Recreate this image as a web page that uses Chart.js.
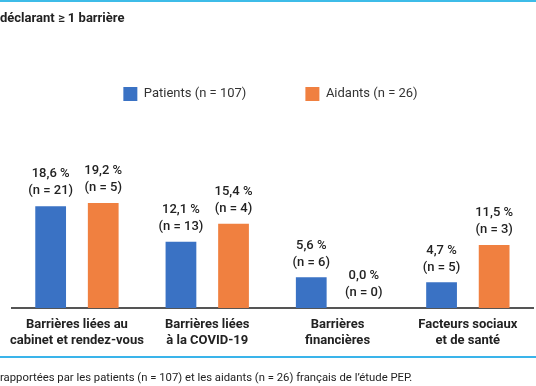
<!DOCTYPE html>
<html>
<head>
<meta charset="utf-8">
<script src="https://cdn.jsdelivr.net/npm/chart.js@4"></script>
<style>
  html, body { margin: 0; padding: 0; background: #fff; }
  #wrap { position: relative; width: 536px; height: 386px; }
</style>
</head>
<body>
<div id="wrap"><canvas id="graficoBarreras" width="536" height="386"></canvas></div>
<script>
const categories = [
  ["Barrières liées au", "cabinet et rendez-vous"],
  ["Barrières liées", "à la COVID-19"],
  ["Barrières", "financières"],
  ["Facteurs sociaux", "et de santé"]
];
const patientsPct = [18.6, 12.1, 5.6, 4.7];
const patientsN = [21, 13, 6, 5];
const aidantsPct = [19.2, 15.4, 0.0, 11.5];
const aidantsN = [5, 4, 0, 3];
const seriesNames = ["Patients (n = 107)", "Aidants (n = 26)"];

const fuente = "Roboto, 'DejaVu Sans', sans-serif";

// etiquetas de valor encima de cada barra (18,6 % / (n = 21))
const etiquetas = {
  id: "etiquetas",
  afterDatasetsDraw(chart) {
    const ctx = chart.ctx;
    const cuentas = [patientsN, aidantsN];
    ctx.save();
    ctx.fillStyle = "#222";
    ctx.textAlign = "center";
    ctx.textBaseline = "middle";
    ctx.font = "500 13px " + fuente;
    chart.data.datasets.forEach((ds, i) => {
      chart.getDatasetMeta(i).data.forEach((bar, j) => {
        const pct = ds.data[j].toFixed(1).replace(".", ",") + " %";
        ctx.fillText(pct, bar.x, bar.y - 32);
        ctx.fillText("(n = " + cuentas[i][j] + ")", bar.x, bar.y - 15);
      });
    });
    ctx.restore();
  },
};

// titulo, lineas azules y nota al pie
const decorado = {
  id: "decorado",
  afterDraw(chart) {
    const ctx = chart.ctx;
    ctx.save();
    ctx.fillStyle = "#3dbce8";
    ctx.fillRect(0, 0, 536, 2);
    ctx.fillStyle = "#3ab4ea";
    ctx.fillRect(0, 356, 536, 2);
    ctx.fillStyle = "#222";
    ctx.textBaseline = "middle";
    ctx.textAlign = "left";
    ctx.font = "bold 13px " + fuente;
    ctx.fillText("déclarant ≥ 1 barrière", 0, 19);
    ctx.font = "11.3px " + fuente;
    ctx.fillText("rapportées par les patients (n = 107) et les aidants (n = 26) français de l’étude PEP.", 0, 378);
    ctx.restore();
  },
};

const ctx = document.getElementById("graficoBarreras").getContext("2d");
new Chart(ctx, {
  type: "bar",
  data: {
    labels: categories,
    datasets: [
      {
        label: seriesNames[0],
        data: patientsPct,
        backgroundColor: "#3a72c4",
      },
      {
        label: seriesNames[1],
        data: aidantsPct,
        backgroundColor: "#f08040",
      },
    ],
  },
  options: {
    responsive: false,
    animation: false,
    categoryPercentage: 0.807,
    barPercentage: 0.585,
    layout: { padding: { top: 28, left: 8, right: 3, bottom: 28 } },
    plugins: {
      legend: {
        position: "top",
        labels: {
          boxWidth: 14,
          boxHeight: 14,
          padding: 59,
          color: "#333",
          font: { family: fuente, size: 13 },
        },
      },
      tooltip: { enabled: false },
    },
    scales: {
      x: {
        grid: { display: false, drawTicks: false },
        border: { color: "#555", width: 2 },
        ticks: {
          color: "#222",
          padding: 9,
          font: { family: fuente, size: 13, weight: "bold", lineHeight: 1.23 },
          maxRotation: 0,
          autoSkip: false,
        },
      },
      y: {
        display: false,
        beginAtZero: true,
        min: 0,
        max: 36,
      },
    },
  },
  plugins: [etiquetas, decorado],
});
</script>
</body>
</html>
